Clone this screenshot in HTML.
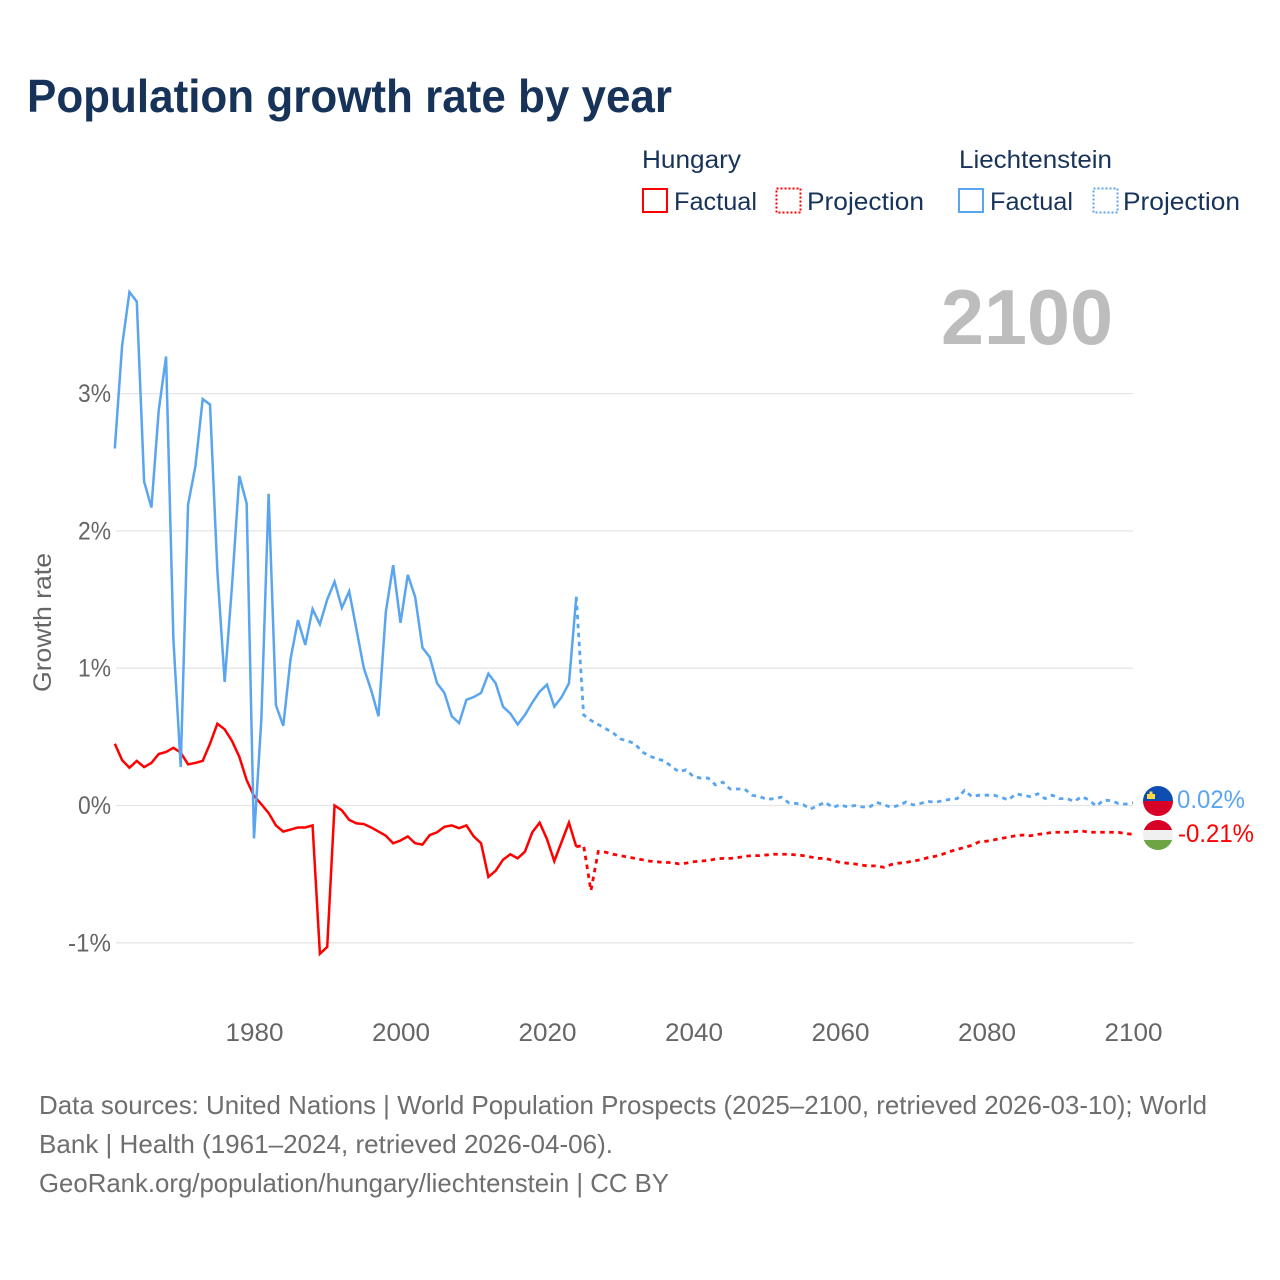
<!DOCTYPE html>
<html lang="en">
<head>
<meta charset="utf-8">
<title>Population growth rate by year</title>
<style>
html,body{margin:0;padding:0;background:#fff;}
svg{display:block;}
text{font-family:"Liberation Sans",sans-serif;}
</style>
</head>
<body>
<svg id="chart" xmlns="http://www.w3.org/2000/svg" width="1280" height="1280" viewBox="0 0 1280 1280">
  <defs>
    <clipPath id="clip-li"><circle cx="1158" cy="801" r="15"/></clipPath>
    <clipPath id="clip-hu"><circle cx="1158" cy="835" r="15"/></clipPath>
  </defs>
  <rect x="0" y="0" width="1280" height="1280" fill="#fff"/>
  <text x="27" y="112" font-size="46" font-weight="700" fill="#17335a" textLength="645" lengthAdjust="spacingAndGlyphs">Population growth rate by year</text>

  <g>
    <text x="642" y="168" font-size="25" fill="#17335a" textLength="99" lengthAdjust="spacingAndGlyphs">Hungary</text>
    <text x="959" y="168" font-size="25" fill="#17335a" textLength="153" lengthAdjust="spacingAndGlyphs">Liechtenstein</text>
    <rect x="643" y="189" width="24" height="23" fill="none" stroke="#ff0000" stroke-width="2"/>
    <text x="674" y="210" font-size="25" fill="#17335a" textLength="83" lengthAdjust="spacingAndGlyphs">Factual</text>
    <rect x="776.5" y="188.5" width="24" height="24" fill="none" stroke="#ff0000" stroke-width="2" stroke-dasharray="2,2"/>
    <text x="807" y="210" font-size="25" fill="#17335a" textLength="117" lengthAdjust="spacingAndGlyphs">Projection</text>
    <rect x="959" y="189" width="24" height="23" fill="none" stroke="#5aa5ef" stroke-width="2"/>
    <text x="990" y="210" font-size="25" fill="#17335a" textLength="83" lengthAdjust="spacingAndGlyphs">Factual</text>
    <rect x="1093.5" y="188.5" width="24" height="24" fill="none" stroke="#5aa5ef" stroke-width="2" stroke-dasharray="2,2"/>
    <text x="1123" y="210" font-size="25" fill="#17335a" textLength="117" lengthAdjust="spacingAndGlyphs">Projection</text>
  </g>

  <text x="941" y="344" font-size="78" font-weight="700" fill="#bdbdbd" textLength="172" lengthAdjust="spacingAndGlyphs">2100</text>

  <text transform="translate(51,692) rotate(-90)" x="0" y="0" font-size="25" fill="#666" textLength="139" lengthAdjust="spacingAndGlyphs">Growth rate</text>

  <g id="grid"></g>
  <g id="y-ticks"></g>
  <g id="x-ticks"></g>
  <g id="series"></g>

  <g clip-path="url(#clip-li)">
    <rect x="1143" y="786" width="30" height="15" fill="#0d4eb0"/>
    <rect x="1143" y="801" width="30" height="15" fill="#d80027"/>
    <rect x="1147" y="794" width="8" height="5" fill="#ffda44"/>
    <rect x="1149.5" y="791.5" width="3" height="3" fill="#ffda44"/>
  </g>
  <g clip-path="url(#clip-hu)">
    <rect x="1143" y="820" width="30" height="10" fill="#d80027"/>
    <rect x="1143" y="830" width="30" height="10" fill="#f0f0f0"/>
    <rect x="1143" y="840" width="30" height="10" fill="#6da544"/>
  </g>
  <text x="1177" y="808" font-size="25" fill="#5aa5ef" textLength="68" lengthAdjust="spacingAndGlyphs">0.02%</text>
  <text x="1178" y="842" font-size="25" fill="#ff0000" textLength="76" lengthAdjust="spacingAndGlyphs">-0.21%</text>

  <g>
    <text x="39" y="1114" font-size="26" fill="#6e6e6e" textLength="1168" lengthAdjust="spacingAndGlyphs">Data sources: United Nations | World Population Prospects (2025–2100, retrieved 2026-03-10); World</text>
    <text x="39" y="1153" font-size="26" fill="#6e6e6e" textLength="574" lengthAdjust="spacingAndGlyphs">Bank | Health (1961–2024, retrieved 2026-04-06).</text>
    <text x="39" y="1192" font-size="26" fill="#6e6e6e" textLength="630" lengthAdjust="spacingAndGlyphs">GeoRank.org/population/hungary/liechtenstein | CC BY</text>
  </g>
</svg>
<script>
const yTicks = [3, 2, 1, 0, -1];
const xTicks = [1980, 2000, 2020, 2040, 2060, 2080, 2100];
const factualStartYear = 1961;
const projectionStartYear = 2024;
const hungaryFactual = [0.45,0.33,0.275,0.325,0.28,0.31,0.375,0.39,0.42,0.385,0.30,0.31,0.325,0.45,0.595,0.555,0.47,0.355,0.185,0.07,0.01,-0.055,-0.145,-0.19,-0.175,-0.16,-0.16,-0.145,-1.08,-1.03,0,-0.035,-0.105,-0.13,-0.135,-0.16,-0.19,-0.22,-0.275,-0.255,-0.225,-0.275,-0.285,-0.215,-0.195,-0.155,-0.145,-0.165,-0.145,-0.225,-0.275,-0.52,-0.475,-0.395,-0.355,-0.385,-0.335,-0.195,-0.125,-0.245,-0.405,-0.265,-0.125,-0.30];
const hungaryProjection = [-0.30,-0.29,-0.62,-0.335,-0.34,-0.355,-0.365,-0.375,-0.385,-0.395,-0.405,-0.41,-0.415,-0.415,-0.425,-0.42,-0.41,-0.405,-0.40,-0.39,-0.385,-0.385,-0.38,-0.37,-0.365,-0.365,-0.36,-0.355,-0.355,-0.355,-0.36,-0.365,-0.375,-0.385,-0.385,-0.40,-0.415,-0.42,-0.425,-0.435,-0.44,-0.44,-0.45,-0.43,-0.42,-0.415,-0.405,-0.395,-0.38,-0.37,-0.355,-0.335,-0.32,-0.305,-0.29,-0.265,-0.26,-0.25,-0.24,-0.23,-0.22,-0.215,-0.22,-0.21,-0.205,-0.195,-0.195,-0.195,-0.19,-0.185,-0.195,-0.195,-0.195,-0.195,-0.195,-0.205,-0.21];
const liechtensteinFactual = [2.60,3.35,3.74,3.67,2.36,2.17,2.88,3.27,1.21,0.28,2.19,2.47,2.96,2.92,1.71,0.90,1.6,2.40,2.20,-0.24,0.62,2.27,0.73,0.58,1.07,1.35,1.17,1.43,1.32,1.50,1.63,1.44,1.56,1.28,1.00,0.84,0.65,1.41,1.75,1.33,1.68,1.52,1.15,1.08,0.89,0.82,0.65,0.60,0.77,0.79,0.82,0.96,0.89,0.72,0.67,0.59,0.66,0.75,0.83,0.88,0.72,0.79,0.89,1.52];
const liechtensteinProjection = [1.52,0.66,0.62,0.59,0.56,0.53,0.485,0.47,0.45,0.39,0.36,0.34,0.325,0.285,0.245,0.26,0.21,0.20,0.20,0.15,0.17,0.12,0.12,0.12,0.075,0.065,0.045,0.05,0.06,0.02,0.015,0.005,-0.025,0,0.025,-0.015,0.005,-0.01,0,-0.01,-0.013,0.023,0.005,-0.013,0,0.025,0.004,0.015,0.03,0.023,0.035,0.045,0.05,0.11,0.065,0.075,0.075,0.075,0.06,0.04,0.085,0.075,0.065,0.085,0.05,0.075,0.05,0.05,0.03,0.065,0.04,-0.005,0.04,0.035,0.015,0.01,0.02];

const SVG_NS = 'http://www.w3.org/2000/svg';
function xScale(year) { return 114.8 + (year - 1961) * 7.325; }
function yScale(value) { return 805.5 - value * 137.3; }

const grid = document.getElementById('grid');
const yAxis = document.getElementById('y-ticks');
const xAxis = document.getElementById('x-ticks');
const seriesGroup = document.getElementById('series');

yTicks.forEach(function (t) {
  const line = document.createElementNS(SVG_NS, 'line');
  line.setAttribute('x1', 116);
  line.setAttribute('x2', 1133);
  line.setAttribute('y1', yScale(t));
  line.setAttribute('y2', yScale(t));
  line.setAttribute('stroke', '#e6e6e6');
  line.setAttribute('stroke-width', 1.3);
  
  
  grid.appendChild(line);

  const label = document.createElementNS(SVG_NS, 'text');
  const str = t + '%';
  label.textContent = str;
  label.setAttribute('x', 111 - (10 * str.length + 13));
  label.setAttribute('y', yScale(t) + 8.5);
  label.setAttribute('font-size', 25);
  label.setAttribute('fill', '#666');
  label.setAttribute('textLength', 10 * str.length + 13);
  label.setAttribute('lengthAdjust', 'spacingAndGlyphs');
  
  
  yAxis.appendChild(label);
});

xTicks.forEach(function (t) {
  const label = document.createElementNS(SVG_NS, 'text');
  label.textContent = String(t);
  label.setAttribute('x', xScale(t) - 28.5);
  label.setAttribute('y', 1041);
  label.setAttribute('font-size', 25);
  label.setAttribute('fill', '#666');
  label.setAttribute('textLength', 58);
  label.setAttribute('lengthAdjust', 'spacingAndGlyphs');
  
  
  xAxis.appendChild(label);
});

function pathFor(values, startYear) {
  return values.map(function (v, i) {
    return (i ? 'L' : 'M') + xScale(startYear + i).toFixed(2) + ' ' + yScale(v).toFixed(2);
  }).join(' ');
}

const hungaryFactualLine = document.createElementNS(SVG_NS, 'path');
hungaryFactualLine.setAttribute('d', pathFor(hungaryFactual, factualStartYear));
hungaryFactualLine.setAttribute('fill', 'none');
hungaryFactualLine.setAttribute('stroke', '#ff0000');
hungaryFactualLine.setAttribute('stroke-width', 2.5);


seriesGroup.appendChild(hungaryFactualLine);

const hungaryProjectionLine = document.createElementNS(SVG_NS, 'path');
hungaryProjectionLine.setAttribute('d', pathFor(hungaryProjection, projectionStartYear));
hungaryProjectionLine.setAttribute('fill', 'none');
hungaryProjectionLine.setAttribute('stroke', '#ff0000');
hungaryProjectionLine.setAttribute('stroke-width', 2.8);
hungaryProjectionLine.setAttribute('stroke-dasharray', '4.5,4.5');


seriesGroup.appendChild(hungaryProjectionLine);

const liechtensteinFactualLine = document.createElementNS(SVG_NS, 'path');
liechtensteinFactualLine.setAttribute('d', pathFor(liechtensteinFactual, factualStartYear));
liechtensteinFactualLine.setAttribute('fill', 'none');
liechtensteinFactualLine.setAttribute('stroke', '#5aa5ef');
liechtensteinFactualLine.setAttribute('stroke-width', 2.5);


seriesGroup.appendChild(liechtensteinFactualLine);

const liechtensteinProjectionLine = document.createElementNS(SVG_NS, 'path');
liechtensteinProjectionLine.setAttribute('d', pathFor(liechtensteinProjection, projectionStartYear));
liechtensteinProjectionLine.setAttribute('fill', 'none');
liechtensteinProjectionLine.setAttribute('stroke', '#5aa5ef');
liechtensteinProjectionLine.setAttribute('stroke-width', 2.8);
liechtensteinProjectionLine.setAttribute('stroke-dasharray', '4.5,4.5');


seriesGroup.appendChild(liechtensteinProjectionLine);
</script>
</body>
</html>
